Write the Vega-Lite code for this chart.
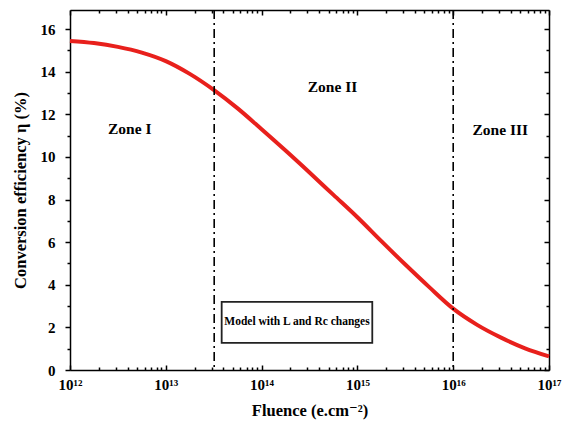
{
  "$schema": "https://vega.github.io/schema/vega-lite/v6.json",
  "autosize": "none",
  "width": 479,
  "height": 360,
  "padding": {"left": 70, "top": 10, "right": 17, "bottom": 69},
  "background": "white",
  "config": {
    "view": {"stroke": null},
    "font": "'Liberation Serif', 'DejaVu Serif', serif",
    "axis": {"grid": false, "domainColor": "black", "tickColor": "black", "labelColor": "black", "titleColor": "black", "domainWidth": 1.5, "tickWidth": 1.5, "labelFont": "'Liberation Serif', 'DejaVu Serif', serif", "titleFont": "'Liberation Serif', 'DejaVu Serif', serif", "labelFontWeight": "bold", "titleFontWeight": "bold", "labelFontSize": 15, "titleFontSize": 16.5}
  },
  "datasets": {
    "curve": [
      {"F": 1e12, "eta": 15.45},
      {"F": 1.778e12, "eta": 15.35},
      {"F": 3.162e12, "eta": 15.17},
      {"F": 5.623e12, "eta": 14.9},
      {"F": 1e13, "eta": 14.5},
      {"F": 1.778e13, "eta": 13.9},
      {"F": 3.162e13, "eta": 13.15},
      {"F": 5.623e13, "eta": 12.28},
      {"F": 1e14, "eta": 11.3},
      {"F": 1.778e14, "eta": 10.3},
      {"F": 3.162e14, "eta": 9.27},
      {"F": 5.623e14, "eta": 8.22},
      {"F": 1e15, "eta": 7.17},
      {"F": 1.778e15, "eta": 6.05},
      {"F": 3.162e15, "eta": 4.95},
      {"F": 5.623e15, "eta": 3.89},
      {"F": 1e16, "eta": 2.88},
      {"F": 1.778e16, "eta": 2.12},
      {"F": 3.162e16, "eta": 1.52},
      {"F": 5.623e16, "eta": 1.02},
      {"F": 1e17, "eta": 0.64}
    ],
    "zones": [
      {"F": 3.2e13, "label": "boundary"},
      {"F": 1e16, "label": "boundary"}
    ],
    "zonetext": [
      {"F": 4.2e12, "eta": 11.3, "label": "Zone I"},
      {"F": 5.5e14, "eta": 13.3, "label": "Zone II"},
      {"F": 3.1e16, "eta": 11.25, "label": "Zone III"}
    ],
    "box": [
      {"F": 3.83e13, "F2": 1.43e15, "eta": 3.2, "eta2": 1.27, "Fc": 2.34e14, "etac": 2.24, "label": "Model with L and Rc changes"}
    ]
  },
  "layer": [
    {
      "data": {"name": "curve"},
      "mark": {"type": "line", "color": "#e8201c", "strokeWidth": 4, "interpolate": "monotone"},
      "encoding": {
        "x": {"field": "F", "type": "quantitative",
          "scale": {"type": "log", "domain": [1e12, 1e17], "nice": false},
          "axis": {"orient": "bottom", "title": "Fluence (e.cm⁻²)", "values": [1e12, 1e13, 1e14, 1e15, 1e16, 1e17], "tickSize": -5, "labelPadding": 12, "labelFlush": false, "labelOverlap": false, "labelExpr": "['10¹²','10¹³','10¹⁴','10¹⁵','10¹⁶','10¹⁷'][round(log(datum.value)/LN10)-12]", "titlePadding": 10}},
        "y": {"field": "eta", "type": "quantitative",
          "scale": {"domain": [0, 16.9], "nice": false, "zero": false},
          "axis": {"orient": "left", "title": "Conversion efficiency η (%)", "values": [0, 2, 4, 6, 8, 10, 12, 14, 16], "tickSize": 5, "labelPadding": 10, "titlePadding": 12}}
      }
    },
    {
      "data": {"name": "zones"},
      "mark": {"type": "rule", "color": "black", "strokeWidth": 1.6, "strokeDash": [9, 4, 2, 4]},
      "encoding": {
        "x": {"field": "F", "type": "quantitative",
          "axis": {"orient": "top", "title": null, "values": [1e12, 1e13, 1e14, 1e15, 1e16, 1e17], "tickSize": -5, "labels": false}}
      }
    },
    {
      "data": {"name": "zonetext"},
      "mark": {"type": "text", "font": "'Liberation Serif', 'DejaVu Serif', serif", "fontWeight": "bold", "fontSize": 15.5, "color": "black"},
      "encoding": {
        "x": {"field": "F", "type": "quantitative",
          "axis": {"orient": "bottom", "title": null, "domain": false, "labels": false, "tickSize": -3,
            "values": [2e12,3e12,4e12,5e12,6e12,7e12,8e12,9e12,2e13,3e13,4e13,5e13,6e13,7e13,8e13,9e13,2e14,3e14,4e14,5e14,6e14,7e14,8e14,9e14,2e15,3e15,4e15,5e15,6e15,7e15,8e15,9e15,2e16,3e16,4e16,5e16,6e16,7e16,8e16,9e16]}},
        "y": {"field": "eta", "type": "quantitative",
          "axis": {"orient": "right", "title": null, "labels": false, "tickSize": -5, "values": [0, 2, 4, 6, 8, 10, 12, 14, 16]}},
        "text": {"field": "label"}
      }
    },
    {
      "data": {"name": "box"},
      "mark": {"type": "rect", "fill": "white", "stroke": "#222", "strokeWidth": 1.8},
      "encoding": {
        "x": {"field": "F", "type": "quantitative",
          "axis": {"orient": "top", "title": null, "domain": false, "labels": false, "tickSize": -3,
            "values": [2e12,3e12,4e12,5e12,6e12,7e12,8e12,9e12,2e13,3e13,4e13,5e13,6e13,7e13,8e13,9e13,2e14,3e14,4e14,5e14,6e14,7e14,8e14,9e14,2e15,3e15,4e15,5e15,6e15,7e15,8e15,9e15,2e16,3e16,4e16,5e16,6e16,7e16,8e16,9e16]}},
        "x2": {"field": "F2"},
        "y": {"field": "eta", "type": "quantitative",
          "axis": {"orient": "left", "title": null, "domain": false, "labels": false, "tickSize": 3, "values": [1, 3, 5, 7, 9, 11, 13, 15]}},
        "y2": {"field": "eta2"}
      }
    },
    {
      "data": {"name": "box"},
      "mark": {"type": "text", "font": "'Liberation Serif', 'DejaVu Serif', serif", "fontWeight": "bold", "fontSize": 11.5, "color": "black"},
      "encoding": {
        "x": {"field": "Fc", "type": "quantitative", "axis": null},
        "y": {"field": "etac", "type": "quantitative",
          "axis": {"orient": "right", "title": null, "domain": false, "labels": false, "tickSize": -3, "values": [1, 3, 5, 7, 9, 11, 13, 15]}},
        "text": {"field": "label"}
      }
    }
  ],
  "resolve": {"axis": {"x": "independent", "y": "independent"}}
}
